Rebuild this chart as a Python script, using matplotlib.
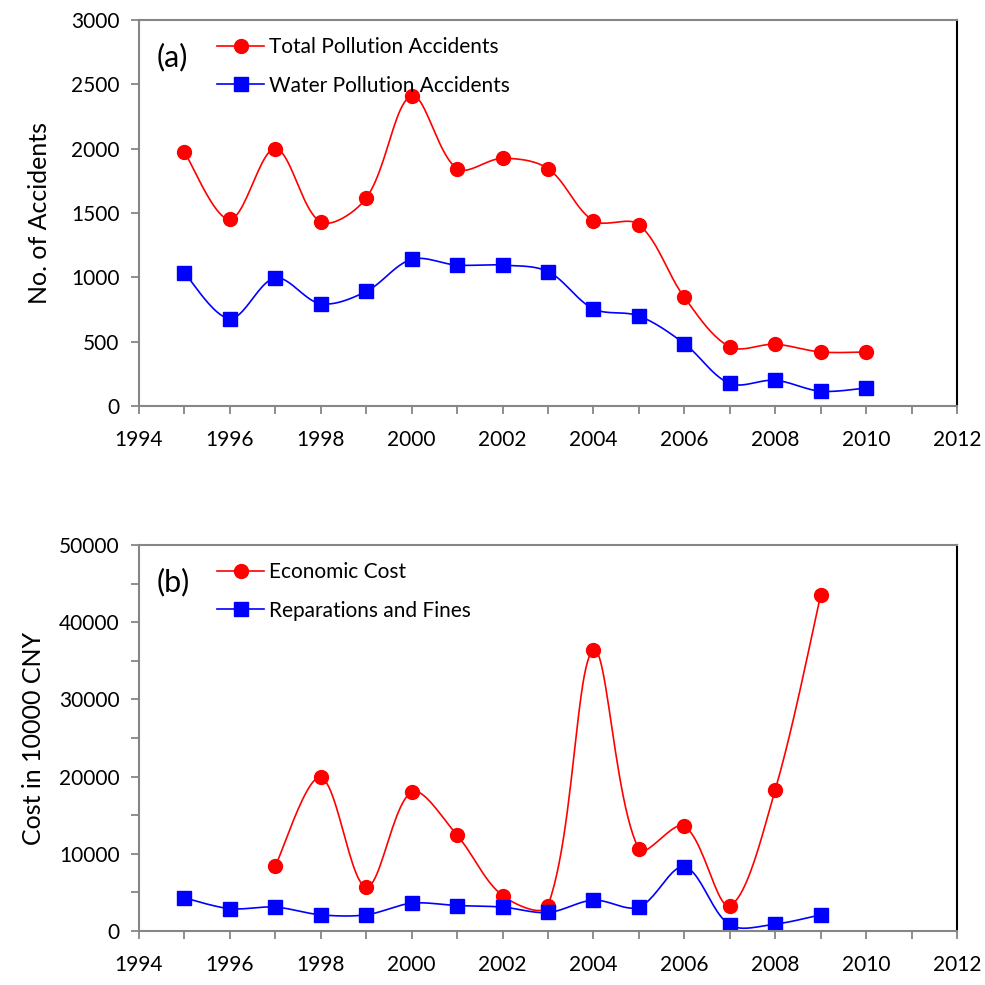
import numpy as np
import matplotlib
matplotlib.use("Agg")
import matplotlib.pyplot as plt
from matplotlib.lines import Line2D

plt.rcParams['font.family'] = ['Lato', 'DejaVu Sans']

years = list(range(1995, 2011))
total_acc = [1975, 1450, 2000, 1430, 1615, 2410, 1845, 1925, 1845, 1440, 1410, 845, 460, 480, 420, 420]
water_acc = [1035, 680, 995, 795, 890, 1140, 1095, 1095, 1045, 755, 700, 485, 175, 200, 115, 140]

cost_years = list(range(1997, 2010))
econ_cost = [8400, 19900, 5700, 18000, 12400, 4600, 3300, 36400, 10600, 13600, 3300, 18300, 43500]
fine_years = list(range(1995, 2010))
fines = [4300, 2900, 3100, 2100, 2100, 3600, 3300, 3100, 2400, 4000, 3100, 8300, 800, 900, 2100]


def smooth(x, y, sx, sy, n=24):
    # excel-like smoothed line: bezier segments, tangents weighted by chord length in pixels
    p = np.column_stack([np.asarray(x, float) * sx, np.asarray(y, float) * sy])
    k = len(p)
    d = np.linalg.norm(np.diff(p, axis=0), axis=1)
    cout, cin = [], []
    for i in range(k):
        if i == 0:
            cout.append(p[0] + (p[1] - p[0]) / 6); cin.append(p[0])
            continue
        if i == k - 1:
            cin.append(p[-1] - (p[-1] - p[-2]) / 6); cout.append(p[-1])
            continue
        T = p[i+1] - p[i-1]
        a, b = d[i-1], d[i]
        cout.append(p[i] + T * b / (a + b) / 3)
        cin.append(p[i] - T * a / (a + b) / 3)
    t = np.linspace(0, 1, n, endpoint=False)[:, None]
    pts = []
    for i in range(k - 1):
        seg = (1-t)**3 * p[i] + 3*(1-t)**2*t * cout[i] + 3*(1-t)*t**2 * cin[i+1] + t**3 * p[i+1]
        pts.append(seg)
    pts.append(p[-1:])
    pts = np.vstack(pts)
    return pts[:, 0] / sx, pts[:, 1] / sy


def style(ax, ymax, ymaj, ymin):
    ax.set_xlim(1994, 2012)
    ax.set_ylim(0, ymax)
    ax.set_xticks(range(1994, 2013, 2))
    ax.set_xticks(range(1994, 2013), minor=True)
    ax.set_yticks(np.arange(0, ymax + 1, ymaj))
    ax.set_yticks(np.arange(0, ymax + 1, ymin), minor=True)
    for s in ('left', 'bottom', 'top'):
        ax.spines[s].set_color('#868686')
        ax.spines[s].set_linewidth(1.5)
    ax.spines['right'].set_color('black')
    ax.spines['right'].set_linewidth(1.5)
    ax.tick_params(which='both', direction='out', length=6, width=1.3, color='#868686',
                   labelsize=15)
    ax.tick_params(axis='x', pad=11)
    ax.tick_params(axis='y', pad=8)


fig = plt.figure(figsize=(9.85, 9.85), dpi=100)
ax1 = fig.add_axes([0.141, 0.5878, 0.8306, 0.3919])
ax2 = fig.add_axes([0.141, 0.0548, 0.8306, 0.3919])

px_x = 818 / 18.0
for ax, ymax, xr, yr, xb, yb, labs in [
        (ax1, 3000, years, total_acc, years, water_acc, ('Total Pollution Accidents', 'Water Pollution Accidents')),
        (ax2, 50000, cost_years, econ_cost, fine_years, fines, ('Economic Cost', 'Reparations and Fines'))]:
    px_y = 386.0 / ymax
    sx, sy = smooth(xr, yr, px_x, px_y)
    ax.plot(sx, sy, color='#ff0000', lw=1.2)
    ax.plot(xr, yr, 'o', color='#ff0000', ms=10, mec='#ff0000')
    sx, sy = smooth(xb, yb, px_x, px_y)
    ax.plot(sx, sy, color='#0000ff', lw=1.2)
    ax.plot(xb, yb, 's', color='#0000ff', ms=9.5, mec='#0000ff')
    handles = [Line2D([], [], color='#ff0000', lw=1.2, marker='o', ms=10),
               Line2D([], [], color='#0000ff', lw=1.2, marker='s', ms=9.5)]
    ax.legend(handles, labs, loc='upper left', bbox_to_anchor=(0.078, 0.993), frameon=False,
              fontsize=15, handlelength=2.25, handletextpad=0.25, labelspacing=0.88,
              borderaxespad=0.3)

style(ax1, 3000, 500, 500)
style(ax2, 50000, 10000, 5000)

ax1.set_ylabel('No. of Accidents', fontsize=18, labelpad=14)
ax2.set_ylabel('Cost in 10000 CNY', fontsize=18, labelpad=10)

ax1.text(0.022, 0.905, '(a)', transform=ax1.transAxes, fontsize=22, va='center')
ax2.text(0.022, 0.905, '(b)', transform=ax2.transAxes, fontsize=22, va='center')

fig.savefig('out.png', dpi=100)
